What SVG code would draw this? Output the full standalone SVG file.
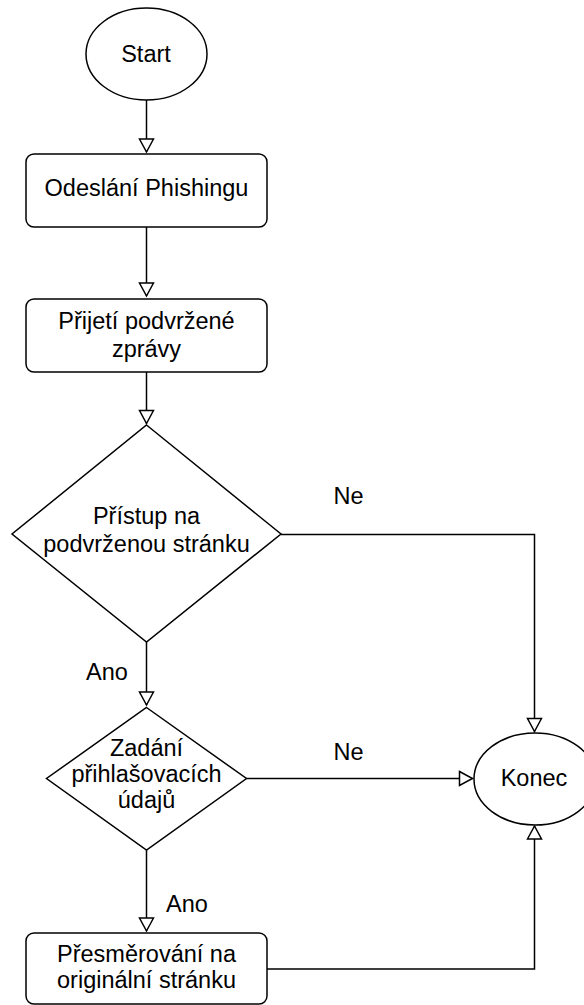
<svg xmlns="http://www.w3.org/2000/svg" width="584" height="1005" viewBox="0 0 584 1005">
  <style>
    .shape { fill: #fff; stroke: #000; stroke-width: 1.5; }
    .edge { fill: none; stroke: #000; stroke-width: 1.5; }
    text { font-family: "Liberation Sans", Arial, sans-serif; font-size: 23.5px; fill: #000; }
    .c { text-anchor: middle; }
  </style>
  <defs>
    <marker id="arr" markerUnits="userSpaceOnUse" markerWidth="18" markerHeight="18" viewBox="0 0 18 18" refX="14" refY="8" orient="auto" overflow="visible">
      <path d="M1,1 L14,8 L1,15 Z" fill="#fff" stroke="#000" stroke-width="1.5" stroke-linejoin="miter"/>
    </marker>
  </defs>
  <rect width="584" height="1005" fill="#fff"/>

  <g id="connectors">
    <path class="edge" d="M146.5,100 L146.5,152" marker-end="url(#arr)"/>
    <path class="edge" d="M146.5,227 L146.5,296" marker-end="url(#arr)"/>
    <path class="edge" d="M146.5,372 L146.5,423.5" marker-end="url(#arr)"/>
    <path class="edge" d="M146.5,642 L146.5,705" marker-end="url(#arr)"/>
    <path class="edge" d="M281,534.5 L534.5,534.5 L534.5,731.5" marker-end="url(#arr)"/>
    <path class="edge" d="M246.5,778.5 L472.5,778.5" marker-end="url(#arr)"/>
    <path class="edge" d="M146.5,850 L146.5,931" marker-end="url(#arr)"/>
    <path class="edge" d="M267,969 L534.5,969 L534.5,826" marker-end="url(#arr)"/>
    <text class="c" x="348.5" y="504">Ne</text>
    <text class="c" x="107" y="680">Ano</text>
    <text class="c" x="348.5" y="760">Ne</text>
    <text class="c" x="187" y="911.5">Ano</text>
  </g>

  <g id="start">
    <ellipse class="shape" cx="146.5" cy="54" rx="60.5" ry="46"/>
    <text class="c" x="146" y="61.5">Start</text>
  </g>

  <g id="odeslani">
    <rect class="shape" x="26" y="154" width="241" height="73" rx="8"/>
    <text class="c" x="146.5" y="196">Odeslání Phishingu</text>
  </g>

  <g id="prijeti">
    <rect class="shape" x="26" y="299" width="241" height="73" rx="8"/>
    <text class="c" x="146.5" y="329">Přijetí podvržené</text>
    <text class="c" x="146.5" y="357">zprávy</text>
  </g>

  <g id="pristup">
    <polygon class="shape" points="146.5,425 281,534 146.5,642 12,534"/>
    <text class="c" x="146.5" y="524">Přístup na</text>
    <text class="c" x="146.5" y="551.5">podvrženou stránku</text>
  </g>

  <g id="zadani">
    <polygon class="shape" points="146.5,707.5 246.5,778.5 146.5,850 46.5,778.5"/>
    <text class="c" x="146.5" y="756">Zadání</text>
    <text class="c" x="146.5" y="782">přihlašovacích</text>
    <text class="c" x="146.5" y="808">údajů</text>
  </g>

  <g id="presmerovani">
    <rect class="shape" x="26" y="933" width="241" height="71" rx="8"/>
    <text class="c" x="146.5" y="962">Přesměrování na</text>
    <text class="c" x="146.5" y="988">originální stránku</text>
  </g>

  <g id="konec">
    <ellipse class="shape" cx="535" cy="779" rx="61" ry="46"/>
    <text class="c" x="534" y="785.5">Konec</text>
  </g>
</svg>
